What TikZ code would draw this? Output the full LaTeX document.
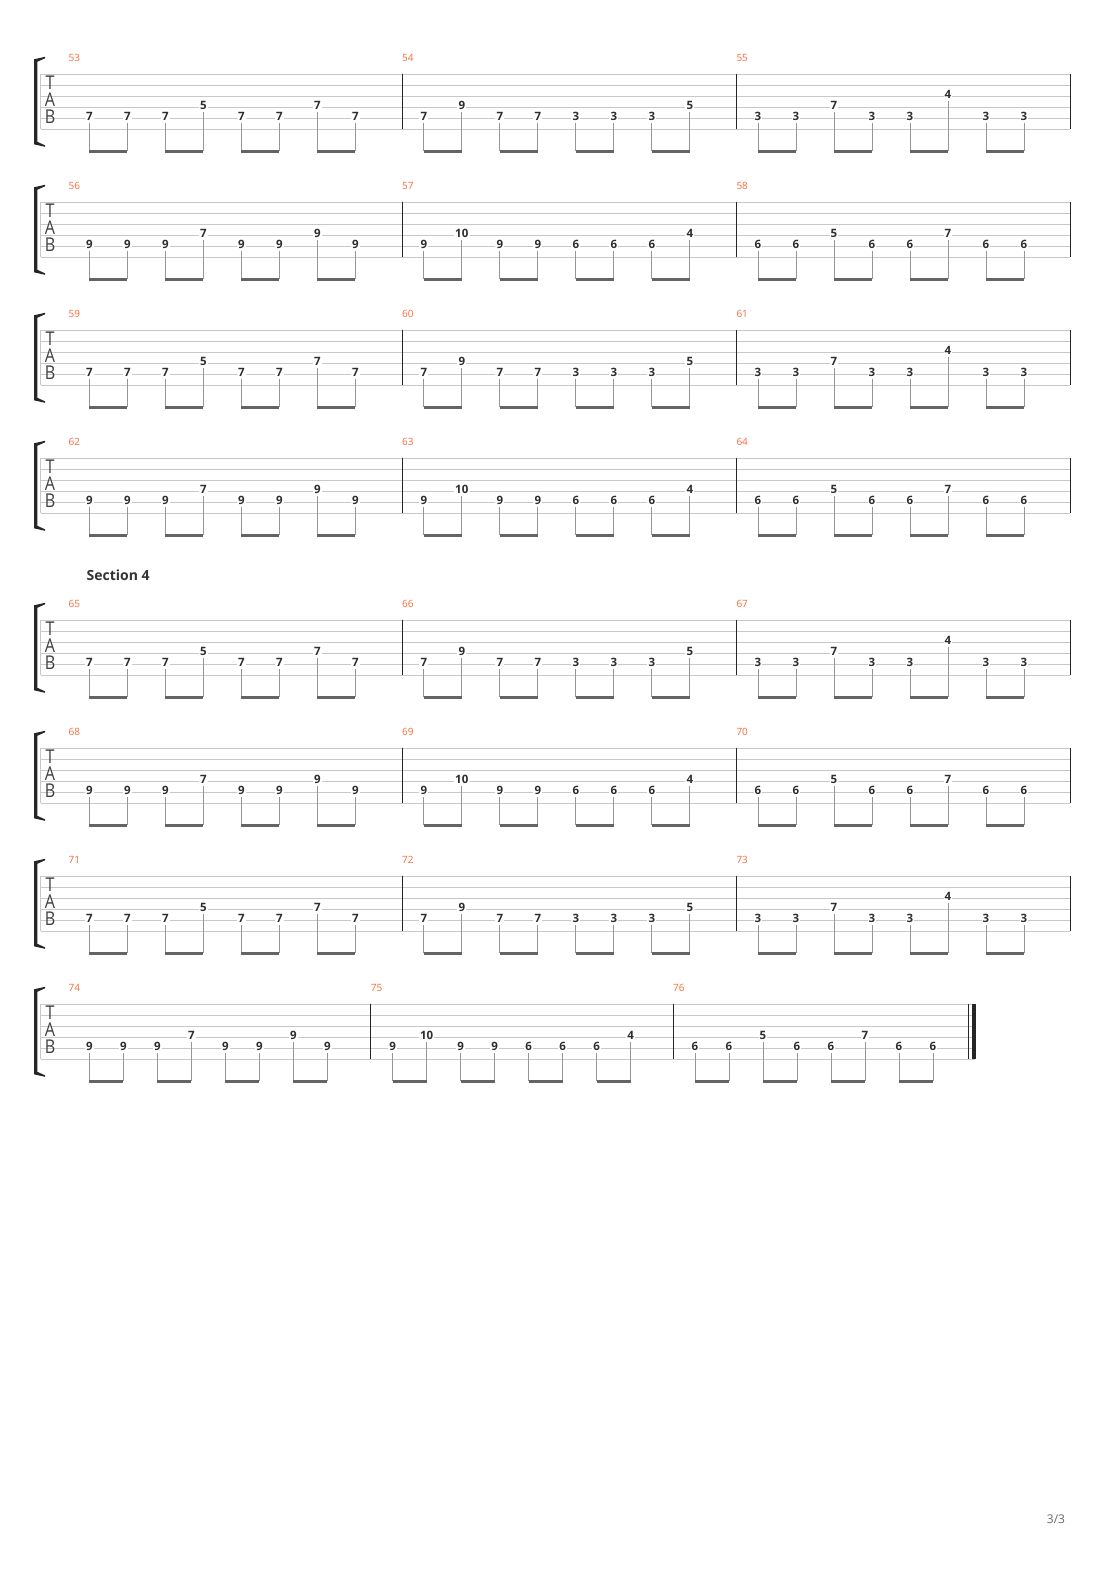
\documentclass[tikz,border=0pt]{standalone}
\usepackage{fontspec}
\setmainfont{Open Sans}
\definecolor{stringgray}{RGB}{200,200,200}
\definecolor{stemgray}{RGB}{150,150,150}
\definecolor{beamgray}{RGB}{100,100,100}
\definecolor{fretdark}{RGB}{45,45,45}
\definecolor{numorange}{RGB}{246,108,58}

% staff of one system: top y, end x, bar 2 x, bar 3 x, first bar number
\newcommand{\tabframe}[5]{
\foreach \k in {0,...,5} \draw[string] (40.7,#1+\k*11) -- (#2,#1+\k*11);
\draw[string] (40.7,#1) -- (40.7,#1+55);
\fill[bracketcol] (34,#1-15) -- (45,#1-17.5) -- (45,#1-16) -- (37.3,#1-12.5) -- (37.3,#1+67.5) -- (45,#1+71) -- (45,#1+72.5) -- (34,#1+70) -- cycle;
\node[tabletter] (T#5) at (50,#1+8.3) {\scalebox{0.85}[1]{T}};
\node[tabletter] (A#5) at (50,#1+25) {\scalebox{0.85}[1]{A}};
\node[tabletter] (B#5) at (50,#1+42) {\scalebox{0.85}[1]{B}};
\draw[barline] (#3,#1) -- (#3,#1+55);
\draw[barline] (#4,#1) -- (#4,#1+55);
\draw[barline] (#2,#1) -- (#2,#1+55);
\node[barnum] (m#5) at (68.5,#1-16) {#5};
\node[barnum] at (#3,#1-16) {\the\numexpr#5+1\relax};
\node[barnum] at (#4,#1-16) {\the\numexpr#5+2\relax};
}

% eight beamed eighths: first x, spacing, top y, fret/string list
\newcommand{\tabnotes}[4]{
\foreach \f/\s [count=\i] in {#4}{
  \pgfmathsetmacro{\nx}{#1+(\i-1)*#2}
  \pgfmathsetmacro{\ny}{#3+(\s-1)*11-2}
  \node[fret] (n\i) at (\nx,\ny) {\f};
  \coordinate (b\i) at (\nx,#3+77);
  \draw[stem] (n\i.south) -- (b\i);
}
\foreach \i [evaluate=\i as \j using int(\i+1)] in {1,3,5,7} \draw[beam] (b\i) -- (b\j);
}

\begin{document}
\begin{tikzpicture}[x=1pt,y=-1pt,
  string/.style={stringgray,line width=0.9pt},
  barline/.style={black!85,line width=0.9pt},
  bracketcol/.style={black!85},
  tabletter/.style={inner sep=0pt,text=black!75,font=\fontsize{19}{19}\selectfont},
  barnum/.style={anchor=west,inner sep=0pt,text=numorange,font=\fontsize{10}{10}\selectfont},
  fret/.style={fill=white,inner sep=1.2pt,text=fretdark,font=\fontsize{11.5}{11.5}\selectfont\bfseries},
  stem/.style={stemgray,line width=1pt,shorten <=1.5pt},
  beam/.style={beamgray,line width=2.7pt}]
\useasboundingbox (0,0) rectangle (1110,1570);
\fill[white] (0,0) rectangle (1110,1570);

\tabframe{74.3}{1070}{402}{736.3}{53}
\tabnotes{89.3}{38}{74.3}{7/5,7/5,7/5,5/4,7/5,7/5,7/4,7/5}
\tabnotes{423.8}{38}{74.3}{7/5,9/4,7/5,7/5,3/5,3/5,3/5,5/4}
\tabnotes{758}{38}{74.3}{3/5,3/5,7/4,3/5,3/5,4/3,3/5,3/5}

\tabframe{202.3}{1070}{402}{736.3}{56}
\tabnotes{89.3}{38}{202.3}{9/5,9/5,9/5,7/4,9/5,9/5,9/4,9/5}
\tabnotes{423.8}{38}{202.3}{9/5,10/4,9/5,9/5,6/5,6/5,6/5,4/4}
\tabnotes{758}{38}{202.3}{6/5,6/5,5/4,6/5,6/5,7/4,6/5,6/5}

\tabframe{330.3}{1070}{402}{736.3}{59}
\tabnotes{89.3}{38}{330.3}{7/5,7/5,7/5,5/4,7/5,7/5,7/4,7/5}
\tabnotes{423.8}{38}{330.3}{7/5,9/4,7/5,7/5,3/5,3/5,3/5,5/4}
\tabnotes{758}{38}{330.3}{3/5,3/5,7/4,3/5,3/5,4/3,3/5,3/5}

\tabframe{458.3}{1070}{402}{736.3}{62}
\tabnotes{89.3}{38}{458.3}{9/5,9/5,9/5,7/4,9/5,9/5,9/4,9/5}
\tabnotes{423.8}{38}{458.3}{9/5,10/4,9/5,9/5,6/5,6/5,6/5,4/4}
\tabnotes{758}{38}{458.3}{6/5,6/5,5/4,6/5,6/5,7/4,6/5,6/5}

\node[anchor=west,inner sep=0pt,text=black!80,font=\fontsize{14}{14}\selectfont\bfseries] (sect) at (86.5,575) {Section 4};

\tabframe{620.3}{1070}{402}{736.3}{65}
\tabnotes{89.3}{38}{620.3}{7/5,7/5,7/5,5/4,7/5,7/5,7/4,7/5}
\tabnotes{423.8}{38}{620.3}{7/5,9/4,7/5,7/5,3/5,3/5,3/5,5/4}
\tabnotes{758}{38}{620.3}{3/5,3/5,7/4,3/5,3/5,4/3,3/5,3/5}

\tabframe{748.3}{1070}{402}{736.3}{68}
\tabnotes{89.3}{38}{748.3}{9/5,9/5,9/5,7/4,9/5,9/5,9/4,9/5}
\tabnotes{423.8}{38}{748.3}{9/5,10/4,9/5,9/5,6/5,6/5,6/5,4/4}
\tabnotes{758}{38}{748.3}{6/5,6/5,5/4,6/5,6/5,7/4,6/5,6/5}

\tabframe{876.3}{1070}{402}{736.3}{71}
\tabnotes{89.3}{38}{876.3}{7/5,7/5,7/5,5/4,7/5,7/5,7/4,7/5}
\tabnotes{423.8}{38}{876.3}{7/5,9/4,7/5,7/5,3/5,3/5,3/5,5/4}
\tabnotes{758}{38}{876.3}{3/5,3/5,7/4,3/5,3/5,4/3,3/5,3/5}

% last system, closed with the final double bar
\tabframe{1004.3}{975}{370.7}{673}{74}
\draw[barline] (968.3,1004.3) -- (968.3,1059.3);
\draw[black!85,line width=3.2pt] (973.6,1004.3) -- (973.6,1059.3);
\tabnotes{89.3}{34}{1004.3}{9/5,9/5,9/5,7/4,9/5,9/5,9/4,9/5}
\tabnotes{392.7}{34}{1004.3}{9/5,10/4,9/5,9/5,6/5,6/5,6/5,4/4}
\tabnotes{695}{34}{1004.3}{6/5,6/5,5/4,6/5,6/5,7/4,6/5,6/5}

\node[text=black!60,inner sep=0pt,font=\fontsize{12}{12}\selectfont] (page) at (1056,1519) {3/3};
\end{tikzpicture}
\end{document}
